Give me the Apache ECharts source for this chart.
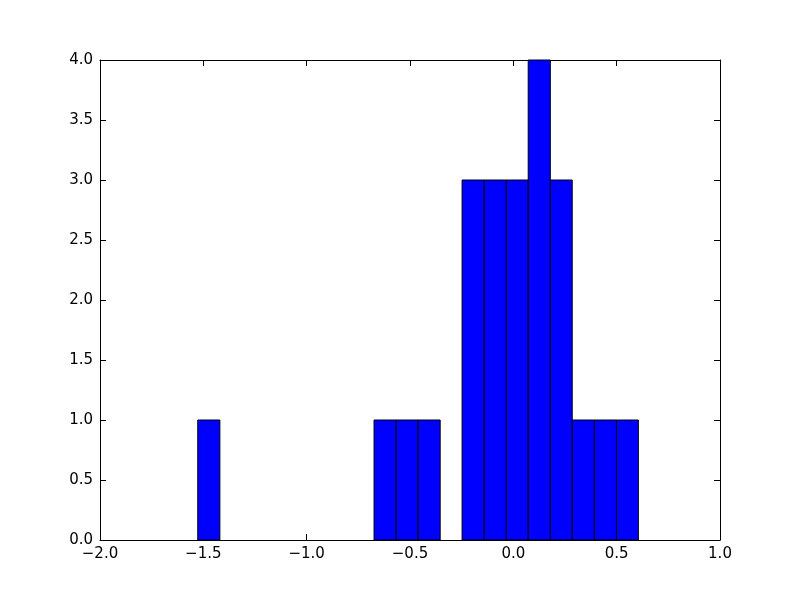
<!DOCTYPE html>
<html>
<head>
<meta charset="utf-8">
<script src="https://cdn.jsdelivr.net/npm/echarts@6/dist/echarts.min.js"></script>
<style>html,body{margin:0;padding:0;background:#fff;}#c{width:800px;height:600px;}</style>
</head>
<body>
<div id="c"></div>
<script>
// Histogram bins (left edge, right edge) and counts
const binLeft  = [-1.527, -0.674, -0.567, -0.461, -0.248, -0.141, -0.034, 0.072, 0.179, 0.285, 0.392, 0.499];
const binRight = [-1.420, -0.567, -0.461, -0.354, -0.141, -0.034, 0.072, 0.179, 0.285, 0.392, 0.499, 0.605];
const counts   = [1, 1, 1, 1, 3, 3, 3, 4, 3, 1, 1, 1];
const xTicks = { min: -2.0, max: 1.0, step: 0.5 };
const yTicks = { min: 0.0, max: 4.0, step: 0.5 };

const data = binLeft.map((l, i) => [l, binRight[i], counts[i]]);
const fmt = v => v.toFixed(1).replace('-', '\u2212');
const font = { fontFamily: 'DejaVu Sans', fontSize: 15, color: '#000' };
const line = { show: true, onZero: false, lineStyle: { color: '#000', width: 1 } };
const tick = { show: true, inside: true, length: 6, lineStyle: { color: '#000', width: 1 } };

const chart = echarts.init(document.getElementById('c'), null, { renderer: 'canvas' });
chart.setOption({
  animation: false,
  backgroundColor: '#fff',
  grid: { left: 100, right: 80, top: 60, bottom: 60, containLabel: false },
  xAxis: [
    { type: 'value', min: xTicks.min, max: xTicks.max, interval: xTicks.step, position: 'bottom',
      axisLine: line, axisTick: tick, splitLine: { show: false },
      axisLabel: Object.assign({ margin: 7, formatter: fmt }, font) },
    { type: 'value', min: xTicks.min, max: xTicks.max, interval: xTicks.step, position: 'top',
      axisLine: line, axisTick: tick, splitLine: { show: false }, axisLabel: { show: false } }
  ],
  yAxis: [
    { type: 'value', min: yTicks.min, max: yTicks.max, interval: yTicks.step, position: 'left',
      axisLine: line, axisTick: tick, splitLine: { show: false },
      axisLabel: Object.assign({ margin: 7, formatter: fmt }, font) },
    { type: 'value', min: yTicks.min, max: yTicks.max, interval: yTicks.step, position: 'right',
      axisLine: line, axisTick: tick, splitLine: { show: false }, axisLabel: { show: false } }
  ],
  series: [{
    type: 'custom',
    xAxisIndex: 0, yAxisIndex: 0,
    data: data,
    encode: { x: [0, 1], y: 2 },
    renderItem: function (params, api) {
      const p0 = api.coord([api.value(0), api.value(2)]);
      const p1 = api.coord([api.value(1), 0]);
      return {
        type: 'rect',
        shape: { x: p0[0], y: p0[1], width: p1[0] - p0[0], height: p1[1] - p0[1] },
        style: { fill: '#0000ff', stroke: '#000', lineWidth: 1 }
      };
    }
  }]
});
</script>
</body>
</html>
